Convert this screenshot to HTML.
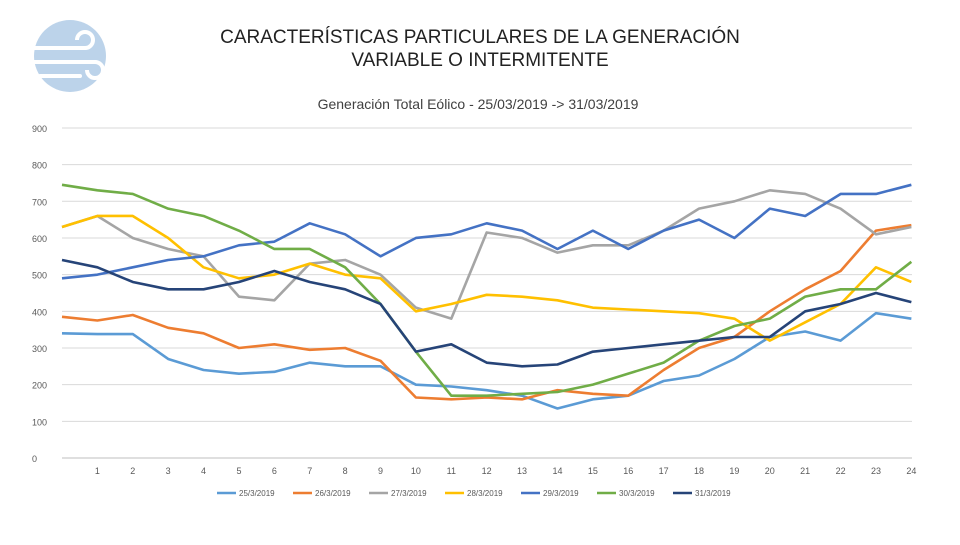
<!DOCTYPE html>
<html><head><meta charset="utf-8"><style>
body{margin:0;background:#fff;font-family:"Liberation Sans",sans-serif}
</style></head><body>
<svg width="960" height="540" viewBox="0 0 960 540" xmlns="http://www.w3.org/2000/svg">
<g>
<circle cx="70" cy="56" r="36" fill="#bcd3ea"/>
<path d="M25 48 H85 M25 62 H95 M40 76 H80" stroke="#fff" stroke-width="4" fill="none" stroke-linecap="round"/>
<path d="M85 48 a8 8 0 1 0 -8 -8 M95 62 a8 8 0 1 1 -8 8" stroke="#fff" stroke-width="4" fill="none"/>
</g>
<text x="480" y="43" text-anchor="middle" font-size="19" fill="#222">CARACTERÍSTICAS PARTICULARES DE LA GENERACIÓN</text>
<text x="480" y="66" text-anchor="middle" font-size="19" fill="#222">VARIABLE O INTERMITENTE</text>
<text x="478" y="109" text-anchor="middle" font-size="14" fill="#404040">Generación Total Eólico - 25/03/2019 -&gt; 31/03/2019</text>
<g id="grid"></g><g id="yt"></g><g id="xt"></g><g id="series"></g><g id="legend"></g>
</svg>
<script>
const yTicks=[0,100,200,300,400,500,600,700,800,900];
const xTicks=[1,2,3,4,5,6,7,8,9,10,11,12,13,14,15,16,17,18,19,20,21,22,23,24];
const seriesNames=["25/3/2019","26/3/2019","27/3/2019","28/3/2019","29/3/2019","30/3/2019","31/3/2019"];
const s25=[340,338,338,270,240,230,235,260,250,250,200,195,185,170,135,160,170,210,225,270,330,345,320,395,380];
const s26=[385,375,390,355,340,300,310,295,300,265,165,160,165,160,185,175,170,240,300,330,400,460,510,620,635];
const s27=[630,660,600,570,550,440,430,530,540,500,410,380,615,600,560,580,580,620,680,700,730,720,680,610,630];
const s28=[630,660,660,600,520,490,500,530,500,490,400,420,445,440,430,410,405,400,395,380,320,370,420,520,480];
const s29=[490,500,520,540,550,580,590,640,610,550,600,610,640,620,570,620,570,620,650,600,680,660,720,720,745];
const s30=[745,730,720,680,660,620,570,570,520,420,290,170,170,175,180,200,230,260,320,360,380,440,460,460,535];
const s31=[540,520,480,460,460,480,510,480,460,420,290,310,260,250,255,290,300,310,320,330,330,400,420,450,425];
const allSeries=[s25,s26,s27,s28,s29,s30,s31];
const colors=["#5b9bd5","#ed7d31","#a5a5a5","#ffc000","#4472c4","#70ad47","#264478"];
const NS="http://www.w3.org/2000/svg";
const X=h=>62+h*35.39, Y=v=>458-v*0.3667;
function mk(t,a,p){const e=document.createElementNS(NS,t);for(const k in a)e.setAttribute(k,a[k]);document.getElementById(p).appendChild(e);return e;}
yTicks.forEach(v=>{
 const l=mk('line',{x1:62,x2:912,y1:Y(v),y2:Y(v),stroke:v?'#d9d9d9':'#bfbfbf','stroke-width':1},'grid');
 
 
 const t=mk('text',{x:32,y:Y(v)+4,'font-size':9,fill:'#595959'},'yt');t.textContent=v;
 
 
});
xTicks.forEach(h=>{
 const t=mk('text',{x:X(h),y:474,'font-size':9,fill:'#595959','text-anchor':'middle'},'xt');t.textContent=h;
 
 
});
allSeries.forEach((s,i)=>{
 const p=mk('polyline',{points:s.map((v,h)=>X(h)+','+Y(v)).join(' '),fill:'none',stroke:colors[i],'stroke-width':2.6,'stroke-linejoin':'round'},'series');
 
 
 const lx=217+i*76;
 const l=mk('line',{x1:lx,x2:lx+19,y1:493,y2:493,stroke:colors[i],'stroke-width':2.6},'legend');
 
 
 const t=mk('text',{x:lx+22,y:496,'font-size':8,fill:'#595959'},'legend');t.textContent=seriesNames[i];
 
 
});
</script>
</body></html>
